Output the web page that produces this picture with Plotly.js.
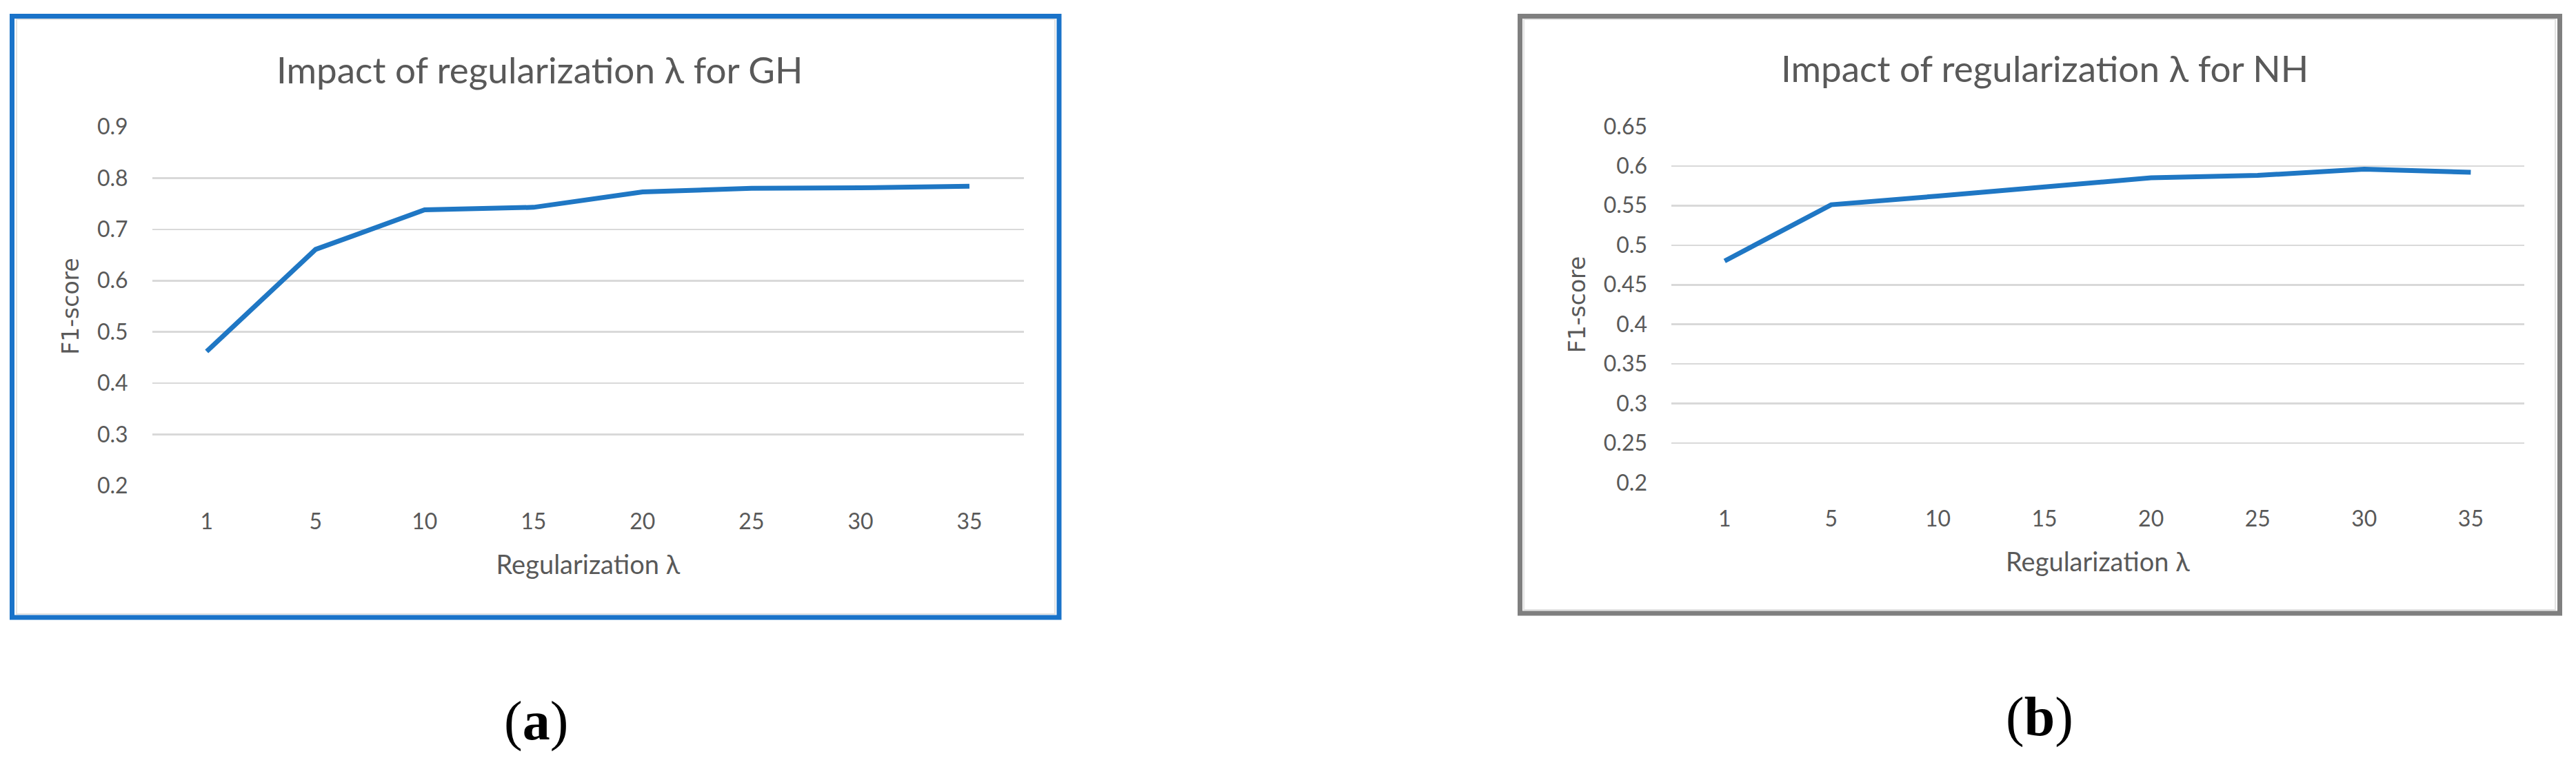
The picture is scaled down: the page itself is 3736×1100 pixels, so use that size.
<!DOCTYPE html>
<html>
<head>
<meta charset="utf-8">
<script src="https://cdn.plot.ly/plotly-3.0.1.min.js"></script>
<style>
  html, body { margin: 0; padding: 0; background: #fff; }
  #plot { width: 3736px; height: 1100px; }
</style>
</head>
<body>
<div id="plot"></div>
<script>
// regularization values (x categories)
const lambdas = ['1', '5', '10', '15', '20', '25', '30', '35']
// F1-score per lambda
const f1GH = [0.462, 0.661, 0.738, 0.743, 0.773, 0.780, 0.781, 0.784]
const f1NH = [0.480, 0.551, 0.562, 0.574, 0.585, 0.588, 0.596, 0.592]

const titles = ['Impact of regularization λ for GH', 'Impact of regularization λ for NH']
const panelLabels = ['(<b>a</b>)', '(<b>b</b>)']

const W = 3736
const H = 1100
const px = x => x / W
const py = y => 1 - y / H

const lineColor = '#1f77c4'
const gridColor = '#d9d9d9'
const textColor = '#595959'
const tickFont = {family: 'Lato, "Liberation Sans", sans-serif', size: 32, color: textColor}

const traces = [
  {
    x: lambdas,
    y: f1GH,
    type: 'scatter',
    mode: 'lines',
    line: {color: lineColor, width: 7},
    xaxis: 'x',
    yaxis: 'y',
    hoverinfo: 'none',
  },
  {
    x: lambdas,
    y: f1NH,
    type: 'scatter',
    mode: 'lines',
    line: {color: lineColor, width: 7},
    xaxis: 'x2',
    yaxis: 'y2',
    hoverinfo: 'none',
  },
]

const xAxisBase = domain => ({
  domain,
  type: 'category',
  range: [-0.5, 7.5],
  showgrid: false,
  zeroline: false,
  showline: false,
  ticks: '',
  ticklabelstandoff: 30,
  tickfont: tickFont,
  automargin: false,
  title: {
    text: 'Regularization λ',
    font: {family: 'Lato, "Liberation Sans", sans-serif', size: 38, color: textColor},
    standoff: 32,
  },
})

const yAxisBase = (domain, range, dtick) => ({
  domain,
  range,
  dtick,
  tick0: 0.2,
  showgrid: true,
  gridcolor: gridColor,
  gridwidth: 2.5,
  zeroline: false,
  showline: false,
  ticks: '',
  ticklabelstandoff: 34,
  tickfont: tickFont,
  automargin: false,
  title: {
    text: 'F1-score',
    font: {family: '"DejaVu Sans", Verdana, sans-serif', size: 33, color: textColor},
    standoff: 16,
  },
})

const border = (x0, y0, x1, y1, color, width) => ({
  type: 'rect',
  xref: 'paper',
  yref: 'paper',
  x0: px(x0),
  x1: px(x1),
  y0: py(y0),
  y1: py(y1),
  line: {color, width},
  fillcolor: 'rgba(0,0,0,0)',
  layer: 'below',
})

const layout = {
  width: W,
  height: H,
  margin: {l: 0, r: 0, t: 0, b: 0},
  paper_bgcolor: '#fff',
  plot_bgcolor: 'rgba(0,0,0,0)',
  showlegend: false,
  xaxis: {...xAxisBase([px(220.7), px(1485)]), anchor: 'y'},
  yaxis: {...yAxisBase([py(705), py(184)], [0.2, 0.9], 0.1), anchor: 'x'},
  xaxis2: {...xAxisBase([px(2424), px(3660.7)]), anchor: 'y2'},
  yaxis2: {...yAxisBase([py(700.7), py(183.3)], [0.2, 0.65], 0.05), anchor: 'x2'},
  shapes: [
    border(24, 28, 1530, 891, '#e3e3e3', 2),
    border(17.5, 23.5, 1536, 896, '#1a73c9', 7),
    border(2210, 28, 3706, 885, '#e3e3e3', 2),
    border(2204.5, 23.5, 3712.5, 890, '#7f7f7f', 7),
  ],
  annotations: [
    {
      text: titles[0],
      xref: 'paper', yref: 'paper',
      x: px(782), y: py(100),
      xanchor: 'center', yanchor: 'middle',
      showarrow: false,
      font: {family: 'Lato, "Liberation Sans", sans-serif', size: 53, color: textColor},
    },
    {
      text: titles[1],
      xref: 'paper', yref: 'paper',
      x: px(2965), y: py(98),
      xanchor: 'center', yanchor: 'middle',
      showarrow: false,
      font: {family: 'Lato, "Liberation Sans", sans-serif', size: 53, color: textColor},
    },
    {
      text: panelLabels[0],
      xref: 'paper', yref: 'paper',
      x: px(777), y: py(1046),
      xanchor: 'center', yanchor: 'middle',
      showarrow: false,
      font: {family: '"Liberation Serif", "Times New Roman", serif', size: 80, color: '#000'},
    },
    {
      text: panelLabels[1],
      xref: 'paper', yref: 'paper',
      x: px(2958), y: py(1040),
      xanchor: 'center', yanchor: 'middle',
      showarrow: false,
      font: {family: '"Liberation Serif", "Times New Roman", serif', size: 80, color: '#000'},
    },
  ],
}

Plotly.newPlot('plot', traces, layout, {staticPlot: true})
</script>
</body>
</html>
